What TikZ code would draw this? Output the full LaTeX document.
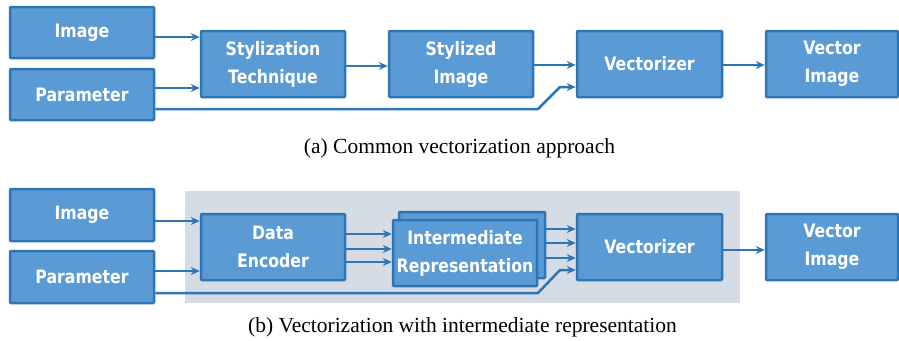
\documentclass[tikz,border=0pt]{standalone}
\usepackage{fontspec}
\setmainfont{Liberation Serif}
\newfontfamily\boxfont{DejaVu Sans}[FakeStretch=0.85]
\usetikzlibrary{arrows.meta}

\definecolor{boxfill}{HTML}{5B9BD5}
\definecolor{boxline}{HTML}{2E75B6}
\definecolor{panel}{HTML}{D6DCE5}

\tikzset{
  blk/.style={draw=boxline, fill=boxfill, line width=2.5pt, text=white,
    font=\boxfont\bfseries\fontsize{18.5}{28}\selectfont, align=center,
    minimum width=144pt, minimum height=66pt, inner sep=0pt, rounded corners=1pt},
  arr/.style={draw=boxline, line width=2.5pt, line join=miter,
    -{Stealth[length=9pt,width=8pt,inset=3pt]}},
  captxt/.style={font=\fontsize{21.5}{25}\selectfont, anchor=base}
}

\begin{document}
\begin{tikzpicture}[x=1pt,y=-1pt]
\useasboundingbox (0,0) rectangle (899,340);

% ---------- (a) common pipeline ----------
\node[blk, minimum height=51pt] (imgA) at (82,32.5) {Image};
\node[blk, minimum height=51pt] (parA) at (82,94.5) {Parameter};
\node[blk] (styA) at (273,64) {Stylization\\Technique};
\node[blk] (stzA) at (461,64) {Stylized\\Image};
\node[blk, minimum width=145pt] (vecA) at (649.5,64) {Vectorizer};
\node[blk, minimum width=132pt] (outA) at (832,64) {Vector\\Image};

\coordinate (a1) at ([yshift=-4.5pt]imgA.east);
\draw[arr] (a1) -- (a1 -| styA.west);
\coordinate (a2) at ([yshift=6.5pt]parA.east);
\draw[arr] (a2) -- (a2 -| styA.west);
\draw[arr] ([yshift=-2pt]styA.east) -- ([yshift=-2pt]stzA.west);
\draw[arr] ([yshift=-1pt]stzA.east) -- ([yshift=-1pt]vecA.west);
\coordinate (a3) at ([yshift=-14.5pt]parA.east);
\coordinate (a4) at ([yshift=-23pt]vecA.west);
\coordinate (a3b) at (538,109);
\coordinate (a4b) at (560,87);
\draw[arr] (a3) -- (a3b) -- (a4b) -- (a4);
\draw[arr] ([yshift=-1pt]vecA.east) -- ([yshift=-1pt]outA.west);

\node[captxt] (capA) at (459.5,153) {(a) Common vectorization approach};

% ---------- (b) with intermediate representation ----------
\node[fill=panel, minimum width=555pt, minimum height=112pt, inner sep=0pt,
      anchor=north west] (bg) at (185,191) {};

\node[blk, minimum height=52pt] (imgB) at (82,215) {Image};
\node[blk, minimum height=52pt] (parB) at (82,277) {Parameter};
\node[blk] (encB) at (273,247) {Data\\Encoder};
\node[blk, minimum width=146pt] (intBack) at (472,245) {};
\node[blk] (intB) at (465,253) {Intermediate\\Representation};
\node[blk, minimum width=145pt] (vecB) at (649.5,247) {Vectorizer};
\node[blk, minimum width=132pt] (outB) at (832,247) {Vector\\Image};

\coordinate (b1) at ([yshift=-6pt]imgB.east);
\draw[arr] (b1) -- (b1 -| encB.west);
\coordinate (b2) at ([yshift=6pt]parB.east);
\draw[arr] (b2) -- (b2 -| encB.west);

% three encoder outputs into the stacked representation
\coordinate (e1) at ([yshift=13pt]encB.east);
\coordinate (e2) at ([yshift=-2pt]encB.east);
\coordinate (e3) at ([yshift=-15pt]encB.east);
\foreach \c in {e1,e2,e3}{\draw[arr] (\c) -- (\c -| intB.west);}

% three representation outputs into the vectorizer
\coordinate (f1) at ([yshift=16pt]intBack.east);
\coordinate (f2) at ([yshift=2pt]intBack.east);
\coordinate (f3) at ([yshift=-13pt]intBack.east);
\foreach \c in {f1,f2,f3}{\draw[arr] (\c) -- (\c -| vecB.west);}

\coordinate (b3) at ([yshift=-16pt]parB.east);
\coordinate (b4) at ([yshift=-23pt]vecB.west);
\coordinate (b3b) at (538,293);
\coordinate (b4b) at (560,270);
\draw[arr] (b3) -- (b3b) -- (b4b) -- (b4);
\draw[arr] ([yshift=-3pt]vecB.east) -- ([yshift=-3pt]outB.west);

\node[captxt] (capB) at (462.5,332) {(b) Vectorization with intermediate representation};
\end{tikzpicture}
\end{document}
